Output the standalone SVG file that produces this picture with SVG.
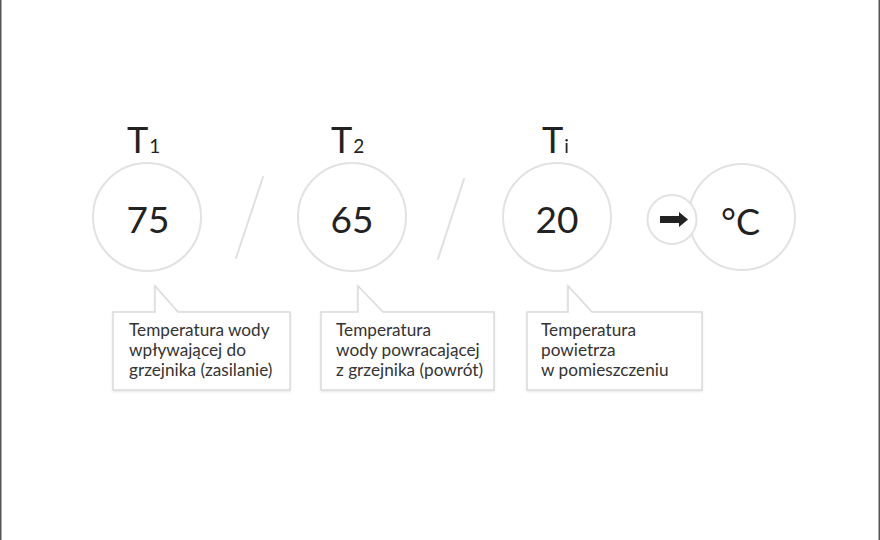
<svg xmlns="http://www.w3.org/2000/svg" width="880" height="540" viewBox="0 0 880 540">
<defs>
<filter id="sh" x="-10%" y="-10%" width="120%" height="130%">
<feDropShadow dx="0" dy="1" stdDeviation="1.2" flood-color="#000" flood-opacity="0.10"/>
</filter>
</defs>
<style>
.ring{fill:#fff;stroke:#e2e2e2;stroke-width:2}
.big{font-family:Lato,"Liberation Sans",sans-serif;font-size:37px;fill:#222;text-anchor:middle}
.lbl{font-family:Lato,"Liberation Sans",sans-serif;font-size:36px;fill:#222}
.sub{font-size:19px}
.box{fill:#fff;stroke:#dadada;stroke-width:1.5;filter:url(#sh)}
.cap{font-family:Lato,"Liberation Sans",sans-serif;font-size:17.2px;fill:#333}
.sl{stroke:#e0e0e0;stroke-width:2;fill:none;stroke-linecap:round}
</style>
<rect x="0" y="0" width="880" height="540" fill="#fff"/>
<line x1="0.75" y1="0" x2="0.75" y2="540" stroke="#555" stroke-width="1.5"/>
<line x1="879.25" y1="0" x2="879.25" y2="540" stroke="#555" stroke-width="1.5"/>

<g id="connectors">
<line class="sl" x1="263" y1="177" x2="236" y2="258"/>
<line class="sl" x1="464" y1="179" x2="438" y2="259"/>
</g>

<g id="t1">
<text class="lbl" x="127" y="153">T<tspan class="sub" dx="1">1</tspan></text>
<circle class="ring" cx="147" cy="217" r="54"/>
<text class="big" x="148" y="233">75</text>
</g>

<g id="t2">
<text class="lbl" x="331" y="153">T<tspan class="sub" dx="1">2</tspan></text>
<circle class="ring" cx="352" cy="217" r="54"/>
<text class="big" x="352" y="233">65</text>
</g>

<g id="ti">
<text class="lbl" x="542" y="153">T<tspan class="sub" dx="1">i</tspan></text>
<circle class="ring" cx="557" cy="217" r="54"/>
<text class="big" x="557" y="233">20</text>
</g>

<g id="unit">
<circle class="ring" cx="742" cy="217" r="53"/>
<text class="lbl" x="721" y="235">°C</text>
</g>

<g id="arrow">
<circle class="ring" cx="672" cy="219.5" r="24.5"/>
<polygon points="660,216 679,216 679,212 688,219.5 679,227 679,223 660,223" fill="#222"/>
</g>

<g id="callout1">
<path class="box" d="M113,312 H155 V286 L178,312 H290 V390 H113 Z"/>
<text class="cap" x="129" y="336">Temperatura wody</text>
<text class="cap" x="129" y="356">wpływającej do</text>
<text class="cap" x="129" y="376">grzejnika (zasilanie)</text>
</g>

<g id="callout2">
<path class="box" d="M321,312 H358 V286 L383,312 H494 V390 H321 Z"/>
<text class="cap" x="336" y="336">Temperatura</text>
<text class="cap" x="336" y="356">wody powracającej</text>
<text class="cap" x="336" y="376">z grzejnika (powrót)</text>
</g>

<g id="callout3">
<path class="box" d="M527,312 H568 V286 L592,312 H702 V390 H527 Z"/>
<text class="cap" x="541" y="336">Temperatura</text>
<text class="cap" x="541" y="356">powietrza</text>
<text class="cap" x="541" y="376">w pomieszczeniu</text>
</g>
</svg>
